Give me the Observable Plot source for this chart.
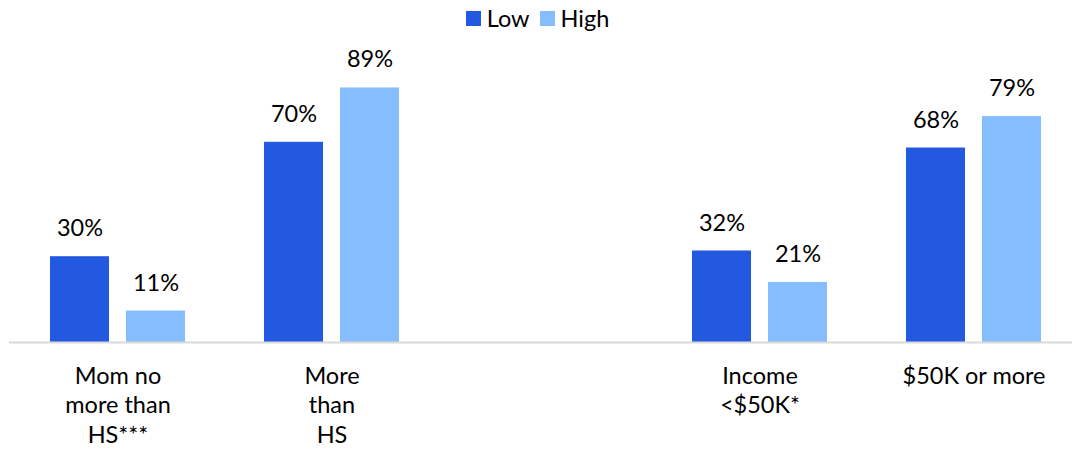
<!DOCTYPE html>
<html>
<head>
<meta charset="utf-8">
<script src="https://cdn.jsdelivr.net/npm/d3@7"></script>
<script src="https://cdn.jsdelivr.net/npm/@observablehq/plot@0.6"></script>
<style>
  html, body { margin: 0; padding: 0; background: #fff; }
  body { width: 1072px; height: 453px; overflow: hidden; font-family: Lato, "Open Sans", sans-serif; }
  #legend { height: 36px; display: flex; justify-content: center; align-items: center; font-size: 23.5px; color: #000; gap: 10px; padding-left: 3px; }
  #legend .item { display: flex; align-items: center; gap: 6px; }
  #legend .sw { width: 15px; height: 15px; display: inline-block; }
</style>
</head>
<body>
<div id="legend"></div>
<div id="chart"></div>
<script>
const groups = ["Mom no\nmore than\nHS***", "More\nthan\nHS", "", "Income\n<$50K*", "$50K or more"];
const series = ["Low", "High"];
const colors = ["#2359E0", "#86BDFE"];
const lowValues = [30, 70, null, 32, 68];
const highValues = [11, 89, null, 21, 79];

const data = [];
groups.forEach((g, i) => {
  if (lowValues[i] != null) data.push({group: g, series: "Low", value: lowValues[i]});
  if (highValues[i] != null) data.push({group: g, series: "High", value: highValues[i]});
});

const legend = document.getElementById("legend");
series.forEach((s, i) => {
  const item = document.createElement("span");
  item.className = "item";
  item.innerHTML = `<span class="sw" style="background:${colors[i]}"></span><span>${s}</span>`;
  legend.appendChild(item);
});

const offset = {Low: -38, High: 38};
const marks = [];
for (const s of series) {
  const d = data.filter(r => r.series === s);
  marks.push(Plot.barY(d, {x: "group", y: "value", fill: colors[series.indexOf(s)], dx: offset[s]}));
  marks.push(Plot.text(d, {x: "group", y: "value", text: r => r.value + "%", dx: offset[s], dy: -28, fontSize: 23.5, fill: "#000"}));
}
marks.push(Plot.ruleY([0], {stroke: "#d9d9d9", strokeWidth: 2}));
marks.push(Plot.axisX({tickSize: 0, tickPadding: 20, fontSize: 23.5, lineHeight: 1.266, fill: "#000", label: null}));

const chart = Plot.plot({
  width: 1072,
  height: 417,
  marginLeft: 9,
  marginRight: 0,
  marginTop: 20,
  marginBottom: 111,
  style: {fontFamily: "Lato, 'Open Sans', sans-serif", color: "#000", background: "#fff"},
  x: {domain: groups, range: [9.25, 1081.75], paddingInner: 0.725, paddingOuter: 0.3625, axis: null},
  y: {domain: [0, 100], axis: null},
  marks
});
document.getElementById("chart").appendChild(chart);
</script>
</body>
</html>
